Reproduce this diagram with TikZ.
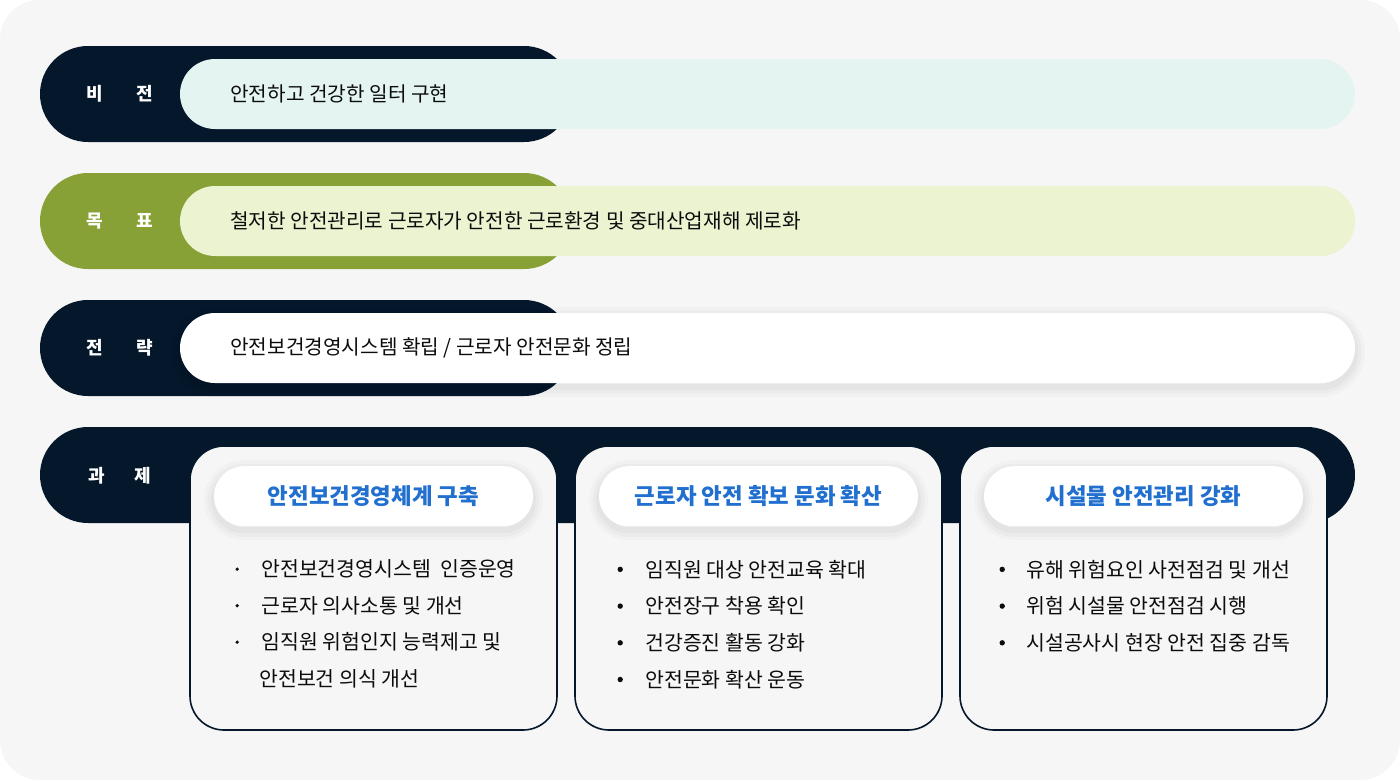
\documentclass[tikz,border=0pt]{standalone}
\usepackage{fontspec}
\setmainfont{Noto Sans CJK KR}
\usetikzlibrary{calc}

\definecolor{navy}{RGB}{5,23,42}
\definecolor{olive}{RGB}{135,161,55}
\definecolor{mint}{RGB}{228,245,241}
\definecolor{lime}{RGB}{235,243,208}
\definecolor{bggray}{RGB}{246,246,246}
\definecolor{titleblue}{RGB}{33,111,207}
\definecolor{ink}{RGB}{12,12,12}

\tikzset{
  softshadow/.style={
    preaction={draw=black, draw opacity=.018, line width=20pt, transform canvas={yshift=-4pt}},
    preaction={draw=black, draw opacity=.022, line width=13pt, transform canvas={yshift=-4pt}},
    preaction={draw=black, draw opacity=.028, line width=6pt, transform canvas={yshift=-4pt}}},
  band/.style={rounded corners=48pt, minimum height=96pt, inner sep=0pt},
  lane/.style={rounded corners=35pt, minimum height=70pt, minimum width=1175pt, inner sep=0pt},
  tagtext/.style={text=white, font=\fontsize{18}{20}\selectfont\bfseries},
  lanetext/.style={text=ink, anchor=west, font=\fontsize{20.2}{23}\selectfont},
  card/.style={draw=navy, line width=1.6pt, fill=bggray, rounded corners=34pt,
    minimum width=367pt, minimum height=284pt},
  titlepill/.style={softshadow, fill=white, rounded corners=30pt, minimum width=319pt, minimum height=60pt,
    text=titleblue, font=\fontsize{22.4}{25}\selectfont\bfseries},
  item/.style={text=ink, anchor=west, inner sep=0pt, font=\fontsize{20.5}{23}\selectfont},
}

\begin{document}
\begin{tikzpicture}[x=1pt, y=-1pt]
  \useasboundingbox (0,0) rectangle (1400,780);
  \fill[white] (0,0) rectangle (1400,780);
  \fill[bggray, rounded corners=40pt] (0,0) rectangle (1400,780);

  % 비전
  \node[band, fill=navy, minimum width=532pt] (vband) at (306,94) {};
  \node[lane, fill=mint] (vlane) at (767.5,94) {};
  \node[tagtext] (vtag) at (120,94) {비\hspace{34pt}전};
  \node[lanetext] (vtext) at ($(vlane.west)+(47,0)$) {안전하고 건강한 일터 구현};

  % 목표
  \node[band, fill=olive, minimum width=532pt] (gband) at (306,221) {};
  \node[lane, fill=lime] (glane) at (767.5,221) {};
  \node[tagtext] (gtag) at (120,221) {목\hspace{34pt}표};
  \node[lanetext] (gtext) at ($(glane.west)+(47,0)$) {철저한 안전관리로 근로자가 안전한 근로환경 및 중대산업재해 제로화};

  % 전략
  \node[band, fill=navy, minimum width=532pt] (sband) at (306,348) {};
  \node[lane, fill=white, softshadow] (slane) at (767.5,348) {};
  \node[tagtext] (stag) at (120,348) {전\hspace{34pt}략};
  \node[lanetext] (stext) at ($(slane.west)+(47,0)$) {안전보건경영시스템 확립 / 근로자 안전문화 정립};

  % 과제
  \node[band, fill=navy, minimum width=1315pt] (tband) at (697.5,475) {};
  \node[tagtext] (ttag) at (120,476) {과\hspace{30pt}제};

  \node[card] (card1) at (373.5,588) {};
  \node[card] (card2) at (758.5,588) {};
  \node[card] (card3) at (1143.5,588) {};

  \node[titlepill] (title1) at ($(card1.north)+(0,51)$) {안전보건경영체계 구축};
  \node[titlepill] (title2) at ($(card2.north)+(0,51)$) {근로자 안전 확보 문화 확산};
  \node[titlepill] (title3) at ($(card3.north)+(0,51)$) {시설물 안전관리 강화};

  \foreach \txt [count=\i] in {안전보건경영시스템~ 인증운영, 근로자 의사소통 및 개선, 임직원 위험인지 능력제고 및}{
    \node[item] (ia\i) at ($(card1.north west)+(72,87.5+36.5*\i)$) {\txt};
    \fill[ink] ($(ia\i.west)+(-24,0)$) circle (1.8pt);
  }
  \node[item] (ia4) at ($(card1.north west)+(70,234)$) {안전보건 의식 개선};

  \foreach \txt [count=\i] in {임직원 대상 안전교육 확대, 안전장구 착용 확인, 건강증진 활동 강화, 안전문화 확산 운동}{
    \node[item] (ib\i) at ($(card2.north west)+(71,87.5+36.7*\i)$) {\txt};
    \fill[ink] ($(ib\i.west)+(-25,0)$) circle (2.7pt);
  }

  \foreach \txt [count=\i] in {유해 위험요인 사전점검 및 개선, 위험 시설물 안전점검 시행, 시설공사시 현장 안전 집중 감독}{
    \node[item] (ic\i) at ($(card3.north west)+(67,87.5+36.7*\i)$) {\txt};
    \fill[ink] ($(ic\i.west)+(-24,0)$) circle (2.7pt);
  }
\end{tikzpicture}
\end{document}
